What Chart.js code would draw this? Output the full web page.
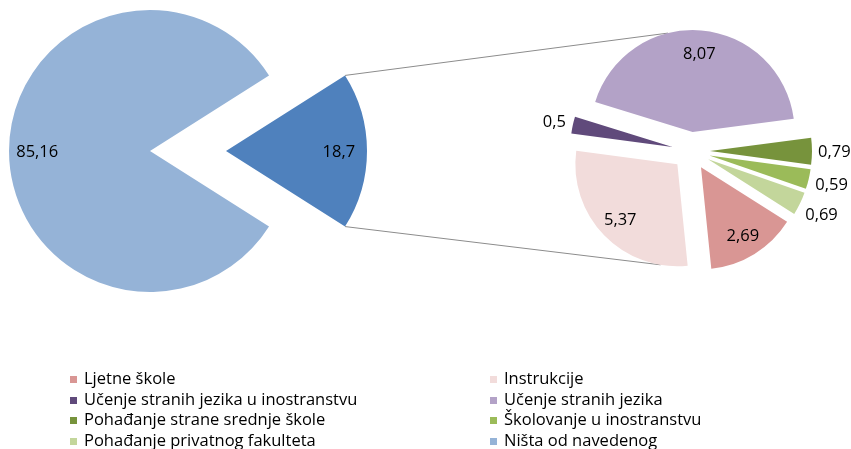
<!DOCTYPE html>
<html>
<head>
<meta charset="utf-8">
<script src="https://cdn.jsdelivr.net/npm/chart.js@4.4.1/dist/chart.umd.min.js"></script>
<style>
    body { margin: 0; background: #fff; }
    #wrap { position: relative; width: 851px; height: 449px; overflow: hidden; font-family: 'Open Sans', sans-serif; }
    #wrap canvas { position: absolute; left: 0; top: 0; }
    #legend { position: absolute; left: 70px; top: 368px; display: grid; grid-template-columns: 420px 340px; }
    .item { height: 20.5px; line-height: 20.5px; font-size: 16.5px; color: #000; white-space: nowrap; }
    .box { display: inline-block; width: 7px; height: 7px; margin-right: 7px; vertical-align: 1px; }
</style>
</head>
<body>
<div id="wrap">
    <canvas id="mainPie" width="851" height="449"></canvas>
    <canvas id="subPie" width="851" height="449"></canvas>
    <div id="legend"></div>
</div>
<script>
// main pie: "none of the above" vs. the rest (split in the second pie)
const mainLabels = ['Ništa od navedenog', 'Ostalo'];
const mainValues = [85.16, 18.7];
const mainColors = ['#95B3D7', '#4F81BD'];

// second pie: breakdown of the 18,7
const subLabels = [
    'Ljetne škole',
    'Instrukcije',
    'Učenje stranih jezika u inostranstvu',
    'Učenje stranih jezika',
    'Pohađanje strane srednje škole',
    'Školovanje u inostranstvu',
    'Pohađanje privatnog fakulteta'
];
const subValues = [2.69, 5.37, 0.5, 8.07, 0.79, 0.59, 0.69];
const subColors = ['#D99694', '#F2DCDB', '#604A7B', '#B3A2C7', '#77933C', '#9BBB59', '#C3D69B'];

const FONT = "16.5px 'Open Sans'";

function fmt(v) {
    return String(v).replace('.', ',');
}

// pie starts so that the small slice of the main pie is centred on the right
const mainTotal = mainValues.reduce((a, b) => a + b, 0);
const startRotation = 90 + (mainValues[1] / mainTotal) * 180;

// moves slices out along their mid angle + writes the value labels
const pieExtras = {
    id: 'pieExtras',
    afterUpdate(chart, args, opts) {
        const meta = chart.getDatasetMeta(0);
        meta.data.forEach((arc, i) => {
            const d = opts.explode[i] || 0;
            const mid = (arc.startAngle + arc.endAngle) / 2;
            arc.x += Math.cos(mid) * d;
            arc.y += Math.sin(mid) * d;
        });
    },
    afterDatasetsDraw(chart, args, opts) {
        const ctx = chart.ctx;
        const meta = chart.getDatasetMeta(0);
        const values = chart.data.datasets[0].data;
        ctx.save();
        ctx.font = FONT;
        ctx.fillStyle = '#000';
        ctx.textAlign = 'center';
        ctx.textBaseline = 'middle';
        meta.data.forEach((arc, i) => {
            const txt = fmt(values[i]);
            const mid = (arc.startAngle + arc.endAngle) / 2;
            const dx = Math.cos(mid), dy = Math.sin(mid);
            const r = arc.outerRadius;
            let dist;
            if (arc.endAngle - arc.startAngle > 0.5) {
                dist = r * opts.inside;
            } else {
                const w = ctx.measureText(txt).width;
                dist = r + 6 + Math.abs(dx) * w / 2 + Math.abs(dy) * 7.5;
            }
            ctx.fillText(txt, arc.x + dx * dist, arc.y + dy * dist + 1);
        });
        ctx.restore();
    }
};

const mainChart = new Chart(document.getElementById('mainPie'), {
    type: 'pie',
    data: {
        labels: mainLabels,
        datasets: [{ data: mainValues, backgroundColor: mainColors, borderWidth: 0, radius: 141 }]
    },
    options: {
        responsive: false,
        animation: false,
        events: [],
        rotation: startRotation,
        layout: { padding: { left: 0, top: 0, right: 551, bottom: 147 } },
        plugins: {
            legend: { display: false },
            tooltip: { enabled: false },
            pieExtras: { explode: [0, 76], inside: 0.8 }
        }
    },
    plugins: [pieExtras]
});

// grey lines from the exploded slice to the second pie
const connectors = {
    id: 'connectors',
    beforeDatasetsDraw(chart, args, opts) {
        const src = mainChart.getDatasetMeta(0).data[1];
        const arcs = chart.getDatasetMeta(0).data;
        const onArc = (deg) => {
            let a = deg * Math.PI / 180 - Math.PI / 2;
            const arc = arcs.find(el => {
                let t = a;
                while (t < el.startAngle) t += Math.PI * 2;
                return t <= el.endAngle;
            }) || arcs[0];
            return [arc.x + Math.cos(a) * arc.outerRadius, arc.y + Math.sin(a) * arc.outerRadius];
        };
        const ends = [
            [src.x + Math.cos(src.startAngle) * src.outerRadius, src.y + Math.sin(src.startAngle) * src.outerRadius, ...onArc(opts.top)],
            [src.x + Math.cos(src.endAngle) * src.outerRadius, src.y + Math.sin(src.endAngle) * src.outerRadius, ...onArc(opts.bottom)]
        ];
        const ctx = chart.ctx;
        ctx.save();
        ctx.strokeStyle = '#8C8C8C';
        ctx.lineWidth = 1;
        ends.forEach(p => {
            ctx.beginPath();
            ctx.moveTo(p[0], p[1]);
            ctx.lineTo(p[2], p[3]);
            ctx.stroke();
        });
        ctx.restore();
    }
};

new Chart(document.getElementById('subPie'), {
    type: 'pie',
    data: {
        labels: subLabels,
        datasets: [{ data: subValues, backgroundColor: subColors, borderWidth: 0, radius: 102 }]
    },
    options: {
        responsive: false,
        animation: false,
        events: [],
        rotation: startRotation,
        layout: { padding: { left: 589, top: 49, right: 58, bottom: 196 } },
        plugins: {
            legend: { display: false },
            tooltip: { enabled: false },
            pieExtras: { explode: subValues.map(() => 19), inside: 0.78 },
            connectors: { top: -14, bottom: 189.5 }
        }
    },
    plugins: [connectors, pieExtras]
});

// legend in two columns, row by row
const legendLabels = subLabels.concat([mainLabels[0]]);
const legendColors = subColors.concat([mainColors[0]]);
document.getElementById('legend').innerHTML = legendLabels.map((l, i) =>
    `<div class="item"><span class="box" style="background:${legendColors[i]}"></span>${l}</div>`
).join('');
</script>
</body>
</html>
